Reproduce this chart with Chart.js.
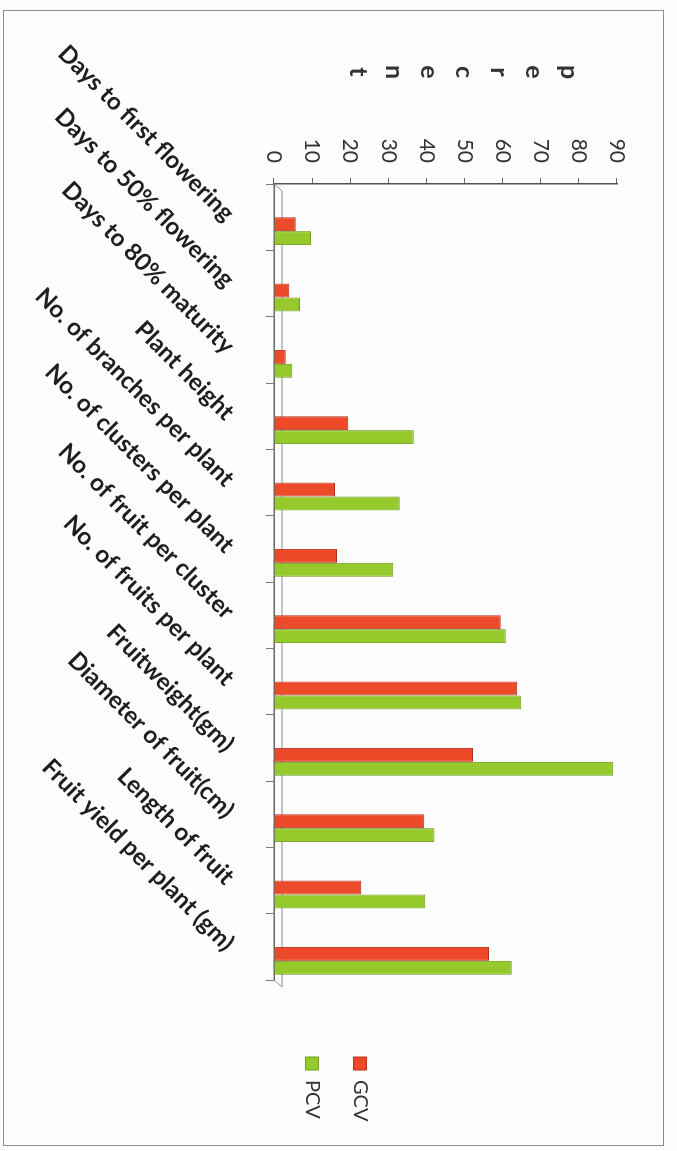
<!DOCTYPE html>
<html lang="en">
<head>
<meta charset="UTF-8">
<title>GCV and PCV per trait</title>
<script src="https://cdn.jsdelivr.net/npm/chart.js"></script>
<style>
  html, body { margin: 0; padding: 0; background: #fdfdfd; overflow: hidden; }
  /* the chart is laid out landscape and turned a quarter clockwise, like the scan */
  #stage {
    position: absolute; left: 0; top: 0;
    width: 1151px; height: 677px;
    transform-origin: 0 0;
    transform: translate(677px, 0) rotate(90deg);
  }
  #frame {
    position: absolute; left: 10px; top: 13px;
    width: 1134px; height: 659px;
    border: 1.5px solid #8c8c8c;
  }
  #yTitle {
    position: absolute; left: 59px; top: 89px; width: 26px;
    font: bold 25px Lato, sans-serif; color: #333;
    line-height: 35.1px; text-align: center;
  }
  canvas { position: absolute; left: 0; top: 0; }
</style>
</head>
<body>
<div id="stage">
  <div id="frame"></div>
  <canvas id="cvChart" width="1151" height="677"></canvas>
  <div id="yTitle">p<br>e<br>r<br>c<br>e<br>n<br>t</div>
</div>

<script>
// traits on the category axis
const traits = [
  'Days to first flowering',
  'Days to 50% flowering',
  'Days to 80% maturity',
  'Plant height',
  'No. of branches per plant',
  'No. of clusters per plant',
  'No. of fruit per cluster',
  'No. of fruits per plant',
  'Fruitweight(gm)',
  'Diameter of fruit(cm)',
  'Length of fruit',
  'Fruit yield per plant (gm)'
];

// values (percent)
const gcv = [5.7, 4.0, 3.1, 19.5, 16.0, 16.5, 59.5, 63.8, 52.2, 39.4, 22.9, 56.4];
const pcv = [9.7, 6.8, 4.8, 36.7, 33.0, 31.3, 60.8, 64.9, 89.0, 42.1, 39.7, 62.4];

// value axis
const yMin = 0;
const yMax = 90;
const yStep = 10;

// legend sits lower right of the plot in the scan, not hugging it
const shiftLegend = {
  id: 'shiftLegend',
  afterLayout(chart) {
    const lg = chart.legend;
    const h = lg.height;
    lg.left = 1029; lg.width = 120; lg.right = lg.left + lg.width;
    lg.top = 279; lg.bottom = lg.top + h;
  }
};

// the 3D columns sit a little behind the tick centre; also draw the floor's back edge
const depthShift = {
  id: 'depthShift',
  beforeDatasetsDraw(chart) {
    const { ctx, chartArea: a } = chart;
    ctx.save();
    ctx.strokeStyle = '#8a8a8a';
    ctx.lineWidth = 1;
    ctx.beginPath();
    ctx.moveTo(a.left, a.bottom);
    ctx.lineTo(a.left + 7, a.bottom - 8);
    ctx.lineTo(a.right + 7, a.bottom - 8);
    ctx.lineTo(a.right, a.bottom);
    ctx.stroke();
    ctx.restore();
    ctx.save();
    ctx.translate(14, 0);
  },
  afterDatasetsDraw(chart) { chart.ctx.restore(); }
};

function draw() {
  Chart.defaults.font.family = 'Lato, sans-serif';
  const ctx = document.getElementById('cvChart').getContext('2d');
  new Chart(ctx, {
    type: 'bar',
    data: {
      labels: traits,
      datasets: [
        {
          label: 'GCV',
          data: gcv,
          backgroundColor: 'rgb(236, 74, 40)',
          borderColor: 'rgb(185, 48, 28)',
          borderWidth: 1
        },
        {
          label: 'PCV',
          data: pcv,
          backgroundColor: 'rgb(150, 201, 44)',
          borderColor: 'rgb(108, 158, 30)',
          borderWidth: 1
        }
      ]
    },
    options: {
      responsive: false,
      animation: false,
      layout: { padding: { top: 60, right: 111, bottom: 0, left: 0 } },
      datasets: {
        bar: { categoryPercentage: 0.42, barPercentage: 1 }
      },
      scales: {
        x: {
          grid: { drawOnChartArea: false, tickLength: 8, color: '#777', offset: true },
          border: { color: '#666', width: 1.5 },
          ticks: {
            autoSkip: false, minRotation: 45, maxRotation: 45, padding: 26,
            color: '#1e1e1e', font: { size: 24, weight: 'bold' }
          },
          afterFit(s) { s.height = 274; }
        },
        y: {
          min: yMin, max: yMax,
          grid: { drawOnChartArea: false, tickLength: 6, color: '#666' },
          border: { color: '#555', width: 1.5 },
          ticks: { stepSize: yStep, padding: 15, color: '#333', font: { size: 21 } },
          afterFit(s) { s.width = 184; }
        }
      },
      plugins: {
        tooltip: { enabled: false },
        legend: {
          position: 'right',
          align: 'start',
          maxWidth: 60,
          labels: { boxWidth: 13, boxHeight: 13, padding: 28, color: '#333', font: { size: 20 } }
        }
      }
    },
    plugins: [shiftLegend, depthShift]
  });
}

// Lato is installed locally; wait for it so the canvas text uses it
document.fonts.load('bold 20px Lato').then(draw, draw);
</script>
</body>
</html>
